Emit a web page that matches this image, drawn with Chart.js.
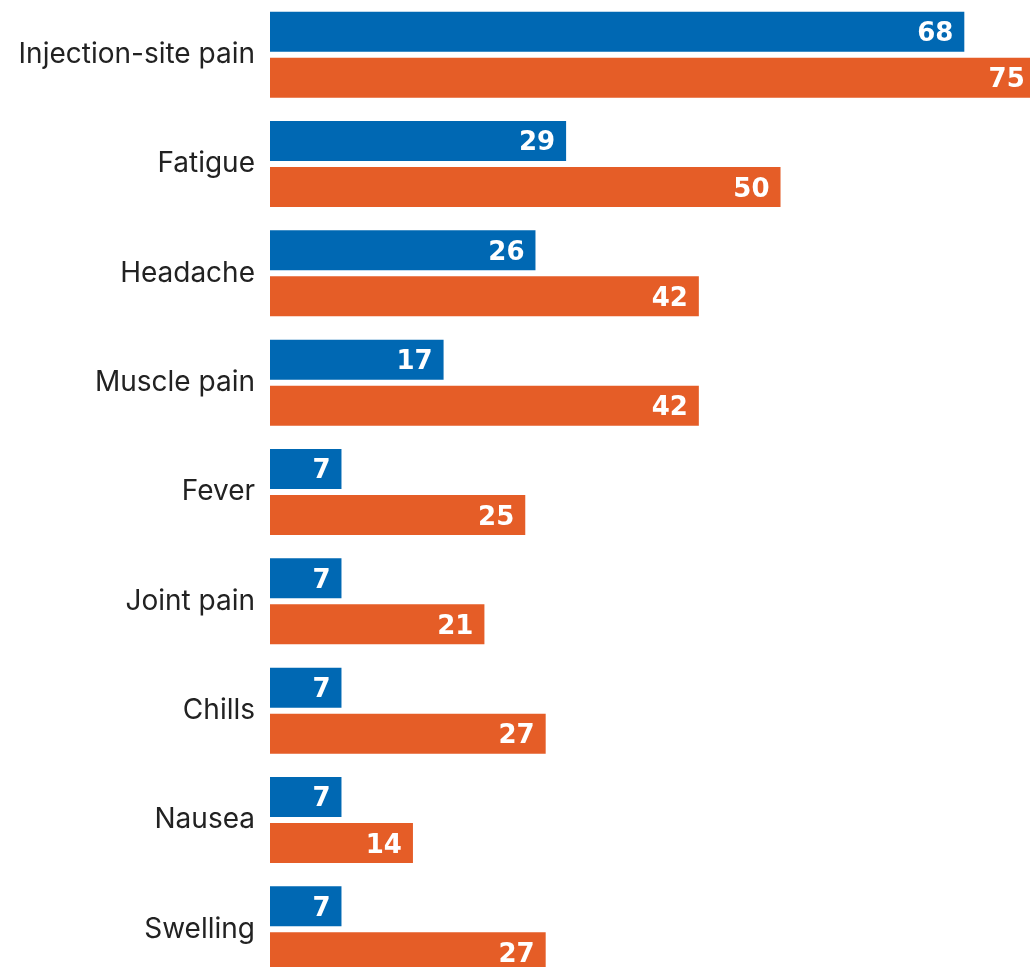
<!DOCTYPE html>
<html>
<head>
<meta charset="utf-8">
<script src="https://cdn.jsdelivr.net/npm/chart.js@4/dist/chart.umd.min.js"></script>
<style>
  html, body { margin: 0; padding: 0; background: #ffffff; overflow: hidden; }
  #wrap { position: absolute; left: 0; top: 0; width: 1046px; height: 984px; }
  canvas { display: block; }
</style>
</head>
<body>
<div id="wrap"><canvas id="chart" width="1046" height="984"></canvas></div>
<script>
// Side effects, share of participants reporting each (%)
const categories = [
  'Injection-site pain', 'Fatigue', 'Headache', 'Muscle pain', 'Fever',
  'Joint pain', 'Chills', 'Nausea', 'Swelling'
];
const seriesA = [68, 29, 26, 17, 7, 7, 7, 7, 7];
const seriesB = [75, 50, 42, 42, 25, 21, 27, 14, 27];
const xMin = 0;
const xMax = 76;

const BLUE = '#0068b3';
const ORANGE = '#e55d27';

// White value labels drawn inside the right end of each bar
const barValueLabels = {
  id: 'barValueLabels',
  afterDatasetsDraw(chart) {
    const ctx = chart.ctx;
    ctx.save();
    ctx.font = 'bold 26px "DejaVu Sans"';
    ctx.fillStyle = '#ffffff';
    ctx.textAlign = 'right';
    ctx.textBaseline = 'alphabetic';
    chart.data.datasets.forEach((ds, di) => {
      const meta = chart.getDatasetMeta(di);
      meta.data.forEach((bar, i) => {
        ctx.fillText(String(ds.data[i]), bar.x - 11, bar.y + 9.5);
      });
    });
    ctx.restore();
  }
};

new Chart(document.getElementById('chart'), {
  type: 'bar',
  data: {
    labels: categories,
    datasets: [
      { data: seriesA, backgroundColor: BLUE, borderWidth: 0 },
      { data: seriesB, backgroundColor: ORANGE, borderWidth: 0 }
    ]
  },
  options: {
    indexAxis: 'y',
    responsive: false,
    animation: false,
    devicePixelRatio: 1,
    layout: { padding: 0 },
    datasets: {
      bar: { categoryPercentage: 0.842, barPercentage: 0.87 }
    },
    plugins: {
      legend: { display: false },
      tooltip: { enabled: false }
    },
    scales: {
      x: {
        display: false,
        min: xMin,
        max: xMax
      },
      y: {
        grid: { display: false, drawTicks: false },
        border: { display: false },
        ticks: {
          color: '#222222',
          padding: 15,
          font: { family: 'Inter', size: 28, weight: '400' }
        },
        afterFit(scale) {
          // fixed label column; let the bands use the full canvas height
          scale.width = 270;
          scale.paddingTop = 0;
          scale.paddingBottom = 0;
        }
      }
    }
  },
  plugins: [barValueLabels]
});
</script>
</body>
</html>
